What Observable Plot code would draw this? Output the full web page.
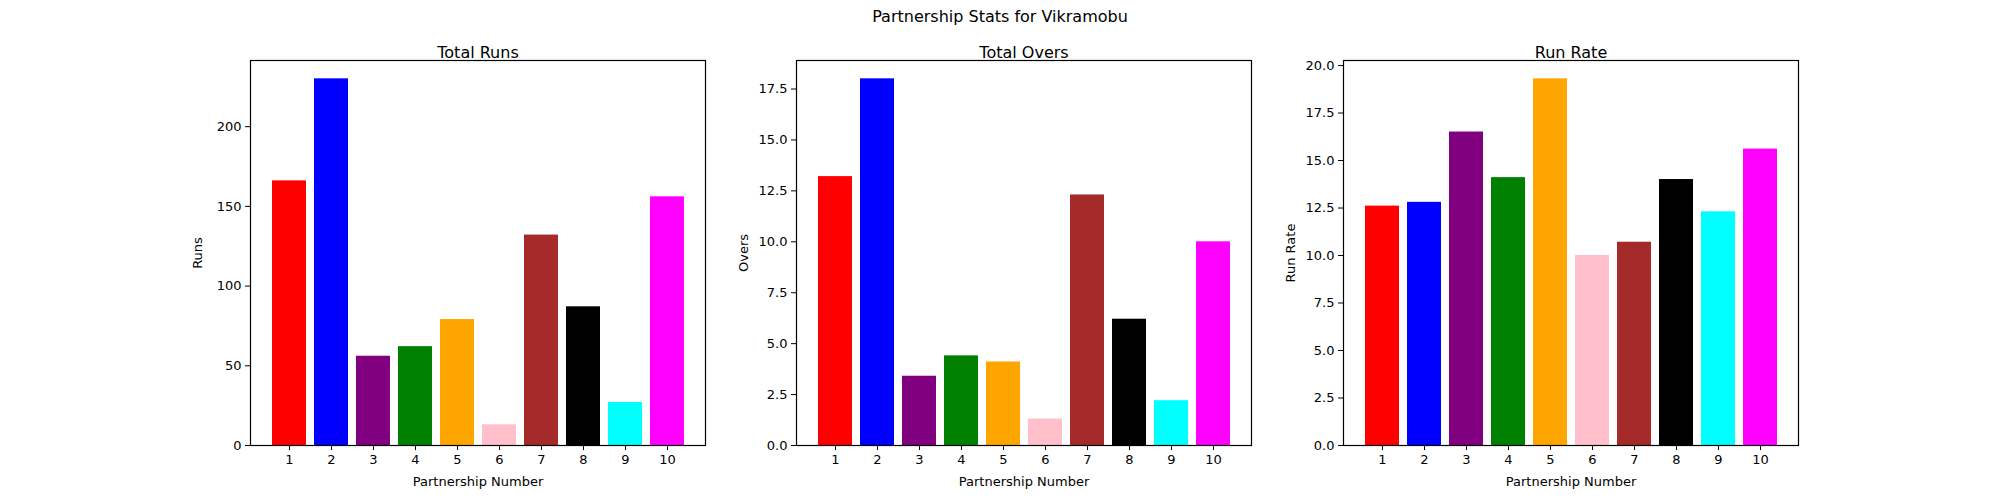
<!DOCTYPE html>
<html>
<head>
<meta charset="utf-8">
<script src="https://cdn.jsdelivr.net/npm/d3@7"></script>
<script src="https://cdn.jsdelivr.net/npm/@observablehq/plot@0.6"></script>
<style>
  body { margin: 0; width: 2000px; height: 500px; background: #fff; position: relative; font-family: "DejaVu Sans", sans-serif; }
  .t { position: absolute; text-align: center; color: #000; }
  .panel { position: absolute; top: 50px; }
</style>
</head>
<body>
<div class="t" style="left:0;width:2000px;top:7px;font-size:16px">Partnership Stats for Vikramobu</div>
<div id="c1" class="panel" style="left:170px"></div>
<div id="c2" class="panel" style="left:716px"></div>
<div id="c3" class="panel" style="left:1263px"></div>
<script>
// partnership numbers and bar colours
const partnerships = [1, 2, 3, 4, 5, 6, 7, 8, 9, 10]
const colors = ["red", "blue", "purple", "green", "orange", "pink", "brown", "black", "cyan", "magenta"]
// values
const runs = [166, 230, 56, 62, 79, 13, 132, 87, 27, 156]
const overs = [13.2, 18.0, 3.4, 4.4, 4.1, 1.3, 12.3, 6.2, 2.2, 10.0]
const runRate = [12.6, 12.8, 16.5, 14.1, 19.3, 10.0, 10.7, 14.0, 12.3, 15.6]

function panel(sel, title, values, label, ticks, fmt) {
  const data = partnerships.map((p, i) => ({p, v: values[i], c: colors[i]}))
  const max = d3.max(values) * 1.05
  let chart = Plot.plot({
    width: 535,
    height: 440,
    marginLeft: 80,
    marginRight: 0,
    marginTop: 10,
    marginBottom: 45,
    style: {fontFamily: "DejaVu Sans", fontSize: "13px", color: "#000", overflow: "visible"},
    x: {domain: partnerships, paddingInner: 0.2, paddingOuter: 0.49, label: "Partnership Number",
        labelAnchor: "center", labelOffset: 40, tickSize: 5},
    y: {domain: [0, max], ticks: ticks, tickFormat: fmt, label: label, labelAnchor: "center",
        labelArrow: "none", labelOffset: 58, tickSize: 5},
    color: {type: "identity"},
    marks: [
      Plot.barY(data, {x: "p", y: "v", fill: "c"}),
      Plot.frame({stroke: "#000", strokeWidth: 1.2}),
      Plot.text([title], {frameAnchor: "top", dy: -14, fontSize: 16, text: d => d})
    ]
  })
  d3.select(sel).append(() => chart)
}

panel("#c1", "Total Runs", runs, "Runs", [0, 50, 100, 150, 200], d3.format("d"))
panel("#c2", "Total Overs", overs, "Overs", d3.range(0, 18, 2.5), d3.format(".1f"))
panel("#c3", "Run Rate", runRate, "Run Rate", d3.range(0, 20.1, 2.5), d3.format(".1f"))
</script>
</body>
</html>
